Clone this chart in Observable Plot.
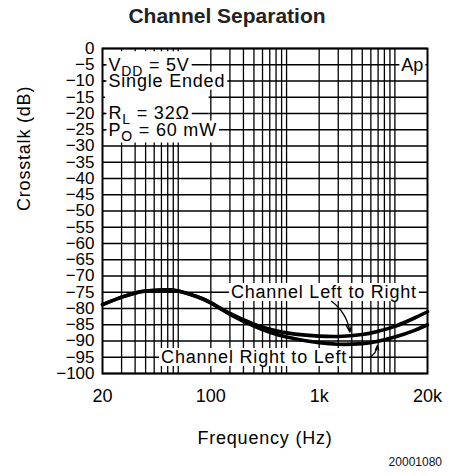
<!DOCTYPE html>
<html><head><meta charset="utf-8">
<script src="https://cdn.jsdelivr.net/npm/d3@7"></script>
<script src="https://cdn.jsdelivr.net/npm/@observablehq/plot@0.6"></script>
<style>
html,body{margin:0;padding:0;background:#fff;}
body{width:454px;height:476px;position:relative;overflow:hidden;font-family:"Liberation Sans",Arial,sans-serif;}
#title{height:32px;line-height:32px;text-align:center;font-weight:bold;font-size:21px;color:#222;}
#code{position:absolute;right:12px;top:455px;font-size:12px;line-height:14px;color:#111;}
#chart svg{display:block;}
</style></head>
<body>
<div id="title">Channel Separation</div>
<div id="chart"></div>
<div id="code">20001080</div>
<script>
// ---- data ----
const freqHz = [20, 30, 40, 50, 70, 100, 150, 200, 300, 500, 700, 1000, 1500, 2000, 3000, 5000, 7000, 10000, 15000, 20000];
const leftToRightDb = [-78.8, -76.5, -75.2, -74.6, -74.3, -74.6, -76.4, -78.2, -81.5, -84.8, -86.4, -87.5, -88.2, -88.5, -88.6, -88.0, -87.0, -85.5, -83.0, -81.0];
const rightToLeftDb = [-78.8, -76.5, -75.2, -74.6, -74.3, -74.6, -76.4, -78.3, -81.8, -85.4, -87.3, -88.8, -89.9, -90.5, -91.0, -90.8, -90.1, -88.8, -86.8, -85.0];
const seriesNames = ["Channel Left to Right", "Channel Right to Left"];
const yTickDb = [0, -5, -10, -15, -20, -25, -30, -35, -40, -45, -50, -55, -60, -65, -70, -75, -80, -85, -90, -95, -100];
const xTickHz = [20, 200, 2000, 20000];
const xTickLabels = ["20", "100", "1k", "20k"];
const xGridHz = [30, 40, 50, 60, 70, 80, 90, 100, 200, 300, 400, 500, 600, 700, 800, 900, 1000, 2000, 3000, 4000, 5000, 6000, 7000, 8000, 9000, 10000];
const conditionLines = ["V_{DD} = 5V", "Single Ended", "R_{L} = 32Ω", "P_{O} = 60 mW"];
const conditionRowsDb = [-5, -10, -20, -25];
const xTitle = "Frequency (Hz)";
const yTitle = "Crosstalk (dB)";
const apLabel = "Ap";

// ---- annotation placement (layout, not data) ----
const seriesLabelHz = [300, 68];
const seriesLabelDb = [-75, -95];
const conditionBlock = {hz1: 21.3, hz2: 193, db1: -1, db2: -27.8};
const apAt = {hz: 14500, db: -5};

const rows = [];
freqHz.forEach((f, i) => {
  rows.push({f, db: leftToRightDb[i], s: seriesNames[0]});
  rows.push({f, db: rightToLeftDb[i], s: seriesNames[1]});
});

const gridW = 1.3;
const svg = Plot.plot({
  width: 454,
  height: 444,
  marginTop: 16,
  marginBottom: 103,
  marginLeft: 102,
  marginRight: 27,
  style: {fontFamily: "'Liberation Sans', Arial, sans-serif", fontSize: "18px", color: "black", background: "white"},
  x: {type: "log", domain: [20, 20000], axis: null},
  y: {domain: [-100, 0], axis: null},
  marks: [
    Plot.ruleX(xGridHz, {x: d => d, stroke: "black", strokeWidth: gridW}),
    Plot.ruleY(yTickDb, {y: d => d, stroke: "black", strokeWidth: gridW}),
    Plot.rect([conditionBlock], {x1: d => d.hz1, x2: d => d.hz2, y1: d => d.db1, y2: d => d.db2, fill: "white"}),
    Plot.ruleY(conditionRowsDb, {y: d => d, x1: () => 20, x2: () => conditionBlock.hz2, stroke: "black", strokeWidth: gridW}),
    Plot.line(rows, {x: "f", y: "db", z: "s", stroke: "black", strokeWidth: 3.6, curve: "natural", strokeLinejoin: "round", strokeLinecap: "round"}),
    Plot.text(conditionLines, {frameAnchor: "left", y: (d, i) => conditionRowsDb[i], text: d => d, textAnchor: "start", dx: 6, fontSize: 18}),
    Plot.text([apLabel], {x: () => apAt.hz, y: () => apAt.db, text: d => d, textAnchor: "middle", fontSize: 18}),
    Plot.text(seriesNames, {x: (d, i) => seriesLabelHz[i], y: (d, i) => seriesLabelDb[i], text: d => d, textAnchor: "start", dx: 1, fontSize: 18}),
    Plot.arrow([{x1: 2600, y1: -77.8, x2: 3850, y2: -87.3}], {x1: "x1", y1: "y1", x2: "x2", y2: "y2", bend: 22, stroke: "black", strokeWidth: 1.3, headLength: 9, headAngle: 40}),
    Plot.arrow([{x1: 5800, y1: -95, x2: 6900, y2: -91.4}], {x1: "x1", y1: "y1", x2: "x2", y2: "y2", bend: -30, stroke: "black", strokeWidth: 1.3, headLength: 8, headAngle: 40}),
    Plot.text(yTickDb, {y: d => d, text: d => d < 0 ? "\u2212" + (-d) : String(d), frameAnchor: "left", textAnchor: "end", dx: -8, fontSize: 17}),
    Plot.text(xTickHz, {x: d => d, text: (d, i) => xTickLabels[i], frameAnchor: "bottom", lineAnchor: "middle", dy: 23, fontSize: 18}),
    Plot.text([xTitle], {text: d => d, frameAnchor: "bottom", lineAnchor: "middle", dy: 65, fontSize: 18}),
    Plot.text([yTitle], {text: d => d, frameAnchor: "left", rotate: -90, dx: -78, fontSize: 18}),
    Plot.frame({stroke: "black", strokeWidth: 2})
  ]
});
document.getElementById("chart").append(svg);

// subscripts, letter spacing and white boxes behind annotation labels
const NS = "http://www.w3.org/2000/svg";
const boxed = new Set([...conditionLines, ...seriesNames, apLabel]);
const spaced = new Set([...conditionLines, ...seriesNames, xTitle, yTitle]);
const pending = [];
svg.querySelectorAll("text").forEach(t => {
  const s = t.textContent;
  if (spaced.has(s)) t.style.letterSpacing = "0.8px";
  if (!boxed.has(s)) return;
  if (s.includes("_{")) {
    t.textContent = "";
    let after = false;
    for (const p of s.split(/(_\{[^}]*\})/)) {
      if (!p) continue;
      const ts = document.createElementNS(NS, "tspan");
      if (p.startsWith("_{")) {
        ts.textContent = p.slice(2, -1);
        ts.setAttribute("dy", "5");
        ts.setAttribute("font-size", "14");
        after = true;
      } else {
        ts.textContent = p;
        if (after) { ts.setAttribute("dy", "-5"); after = false; }
      }
      t.append(ts);
    }
  }
  pending.push(t);
});
pending.forEach(t => {
  const bb = t.getBBox();
  const r = document.createElementNS(NS, "rect");
  r.setAttribute("x", bb.x - 2);
  r.setAttribute("y", bb.y + 1);
  r.setAttribute("width", bb.width + 4);
  r.setAttribute("height", Math.max(0, bb.height - 2));
  r.setAttribute("fill", "white");
  r.setAttribute("stroke", "none");
  const tr = t.getAttribute("transform");
  if (tr) r.setAttribute("transform", tr);
  const g = t.parentNode;
  g.insertBefore(r, g.firstChild);
});
</script>
</body></html>
